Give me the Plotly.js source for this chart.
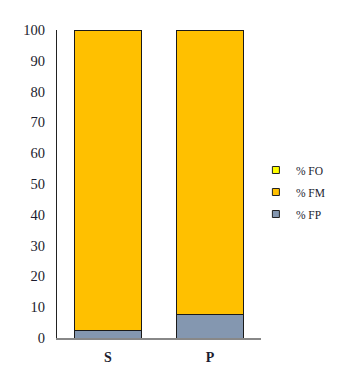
<!DOCTYPE html>
<html><head><meta charset="utf-8">
<script src="https://cdn.plot.ly/plotly-3.0.1.min.js"></script>
<style>html,body{margin:0;padding:0;background:#fff}</style>
</head><body>
<div id="chart" style="width:344px;height:382px"></div>
<script>
const categories = ['S', 'P'];
const fpValues = [2.3, 7.5];
const fmValues = [97.4, 92.2];
const foValues = [0.3, 0.3];
const seriesNames = ['% FP', '% FM', '% FO'];
const yTicks = [0,10,20,30,40,50,60,70,80,90,100];

const colors = ['#8497B0', '#FFC000', '#FFFF00'];
const vals = [fpValues, fmValues, foValues];
const traces = [];
vals.forEach((v, i) => {
  traces.push({
    type: 'bar', x: categories, y: v, name: seriesNames[i], showlegend: false,
    marker: {color: colors[i], line: {color: '#1a1a1a', width: 1}}
  });
});
[2, 1, 0].forEach((i) => {
  traces.push({
    type: 'scatter', mode: 'markers', x: [null], y: [null], name: seriesNames[i],
    legendgroup: 'g' + i, showlegend: true,
    marker: {symbol: 'square', size: 7, color: colors[i], line: {color: '#222', width: 1}}
  });
});

const SERIF = '"Liberation Serif", "Times New Roman", serif';
const layout = {
  width: 344, height: 382,
  margin: {l: 57, r: 83, t: 30, b: 44, autoexpand: false},
  barmode: 'stack', bargap: 0.35,
  paper_bgcolor: '#fff', plot_bgcolor: '#fff',
  font: {family: SERIF, color: '#1c1c2e'},
  xaxis: {showgrid: false, showline: true, linecolor: '#888', linewidth: 1.5,
    ticks: '', tickfont: {size: 14, weight: 'bold'}, ticklabelstandoff: 6, fixedrange: true},
  yaxis: {range: [0, 100], tickvals: yTicks, showgrid: false, showline: true,
    linecolor: '#222', linewidth: 1, ticks: '', tickfont: {size: 14.5},
    ticklabelstandoff: 8, zeroline: false},
  legend: {x: 0.975, y: 0.474, xanchor: 'left', yanchor: 'middle', traceorder: 'grouped',
    font: {size: 11.5, family: SERIF}, itemwidth: 30, tracegroupgap: 3, bgcolor: 'rgba(0,0,0,0)'},
  showlegend: true
};
Plotly.newPlot('chart', traces, layout, {displayModeBar: false, staticPlot: true});
</script>
</body></html>
